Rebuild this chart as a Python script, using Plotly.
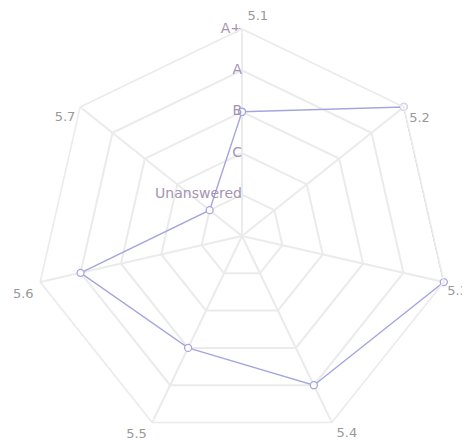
import plotly.graph_objects as go

categories = ["5.1", "5.2", "5.3", "5.4", "5.5", "5.6", "5.7"]
values = [3, 5, 5, 4, 3, 4, 1]
grade_vals = [1, 2, 3, 4, 5]
grade_text = ["Unanswered", "C", "B", "A", "A+"]
label_pos = ["top right", "bottom right", "bottom right", "bottom right",
             "bottom left", "bottom left", "bottom left"]
label_gap = [7, 7, 4, 6, 7, 9, 6]

fig = go.Figure()
fig.add_trace(go.Scatterpolar(
    r=values + values[:1],
    theta=categories + categories[:1],
    mode="lines+markers",
    line=dict(color="#a6a6de", width=1.4),
    marker=dict(symbol="circle", size=7, color="white",
                line=dict(width=1.3, color="#a6a6de")),
    showlegend=False, cliponaxis=False,
))
# radial grade labels on the first spoke
fig.add_trace(go.Scatterpolar(
    r=grade_vals, theta=[categories[0]] * len(grade_vals),
    mode="text", text=grade_text, textposition="middle left",
    textfont=dict(family="DejaVu Sans", size=14, color="#a394b3"),
    showlegend=False, cliponaxis=False, hoverinfo="skip",
))
# category labels at the outer vertices
fig.add_trace(go.Scatterpolar(
    r=[5] * len(categories), theta=categories,
    mode="markers+text", text=categories, textposition=label_pos,
    marker=dict(size=label_gap, color="rgba(0,0,0,0)"),
    textfont=dict(family="DejaVu Sans", size=13, color="#999999"),
    showlegend=False, cliponaxis=False, hoverinfo="skip",
))

fig.update_layout(
    width=470, height=442,
    margin=dict(l=27, r=29, t=21, b=7),
    paper_bgcolor="white",
    font=dict(family="DejaVu Sans", size=11, color="#888888"),
    polar=dict(
        bgcolor="white",
        gridshape="linear",
        domain=dict(x=[0, 1], y=[0, 1]),
        angularaxis=dict(
            rotation=90, direction="clockwise",
            categoryarray=categories, categoryorder="array",
            gridcolor="#ebebeb", gridwidth=1.6,
            linecolor="#ebebeb", linewidth=1.6,
            showticklabels=False, ticks="",
        ),
        radialaxis=dict(
            range=[0, 5], angle=90,
            tickvals=grade_vals,
            gridcolor="#ebebeb", gridwidth=1.6,
            showline=False, ticks="", showticklabels=False,
        ),
    ),
)

fig.write_html("out.html")
